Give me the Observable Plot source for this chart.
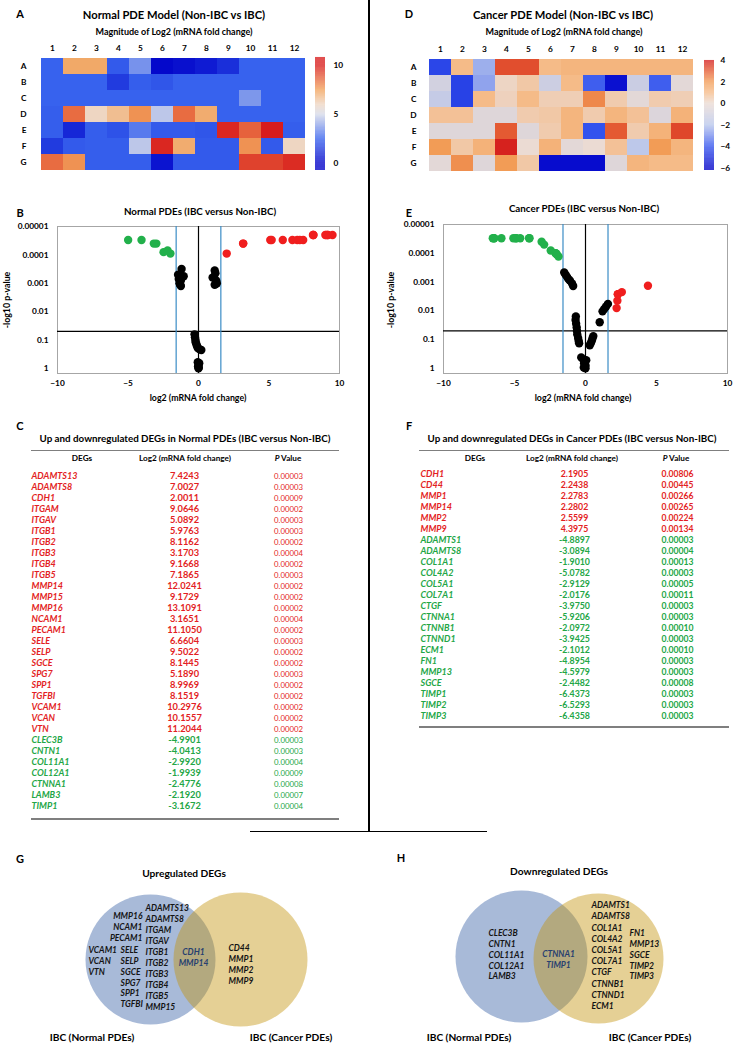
<!DOCTYPE html>
<html><head><meta charset="utf-8">
<script src="https://cdn.jsdelivr.net/npm/d3@7"></script>
<script src="https://cdn.jsdelivr.net/npm/@observablehq/plot@0.6"></script>
<style>
body{margin:0;background:#fff;}
#page{position:relative;width:733px;height:1044px;overflow:hidden;font-family:Lato,"Open Sans",sans-serif;background:#fff;}
.abs{position:absolute;white-space:nowrap;line-height:1;}
</style></head><body><div id="page"></div>
<script>
// ---------------- DATA ----------------
const heatCols = ["1","2","3","4","5","6","7","8","9","10","11","12"];
const heatRows = ["A","B","C","D","E","F","G"];
const normalHeat = [
  [2.5, 7.3, 7.3, 2.3, 3.5, 0.2, 0.4, 0.7, 1.2, 2.5, 2.5, 2.5],
  [2.5, 2.5, 2.5, 1.5, 2.4, 2.2, 2.5, 2.5, 2.5, 2.5, 2.5, 2.5],
  [2.5, 2.5, 2.5, 2.5, 2.5, 2.5, 2.5, 2.5, 2.5, 3.6, 2.5, 2.5],
  [2.4, 8.5, 6.0, 6.7, 7.8, 4.6, 8.5, 7.2, 2.5, 2.5, 2.5, 2.5],
  [2.4, 1.0, 2.4, 2.1, 3.0, 2.3, 2.3, 2.2, 9.8, 8.7, 10.3, 2.4],
  [1.5, 2.3, 2.4, 2.4, 4.6, 9.8, 7.2, 2.3, 2.3, 7.8, 2.3, 6.0],
  [8.5, 7.8, 2.4, 2.4, 2.4, 0.5, 2.3, 2.3, 2.3, 9.3, 9.3, 9.7]
];
const cancerHeat = [
  [-4.3, 1.0, -2.4, 3.2, 3.2, 1.0, 1.2, 1.2, 1.2, 1.2, 1.2, 1.2],
  [-1.0, -4.4, -2.6, 0.2, 0.6, -1.2, 1.0, -3.8, -5.6, -1.3, -3.8, -0.3],
  [-1.5, -4.4, 1.0, 0.3, 1.0, 0.4, 0.4, 2.3, 0.5, -0.3, 0.5, 0.4],
  [0.8, 0.8, -0.5, -0.5, 0.5, 0.6, 1.2, 0.5, 1.2, 0.8, -0.6, 1.3],
  [-0.5, -0.5, -0.5, 3.0, -0.5, 0.5, 1.2, -4.0, 3.0, 0.5, 1.3, 3.3],
  [2.0, 0.6, 1.3, 3.9, 0.0, 1.3, -0.3, 0.0, 0.8, -1.8, 2.0, 1.2],
  [-0.3, 2.2, -0.5, 2.0, 0.6, -5.7, -5.7, -5.7, -0.5, 1.2, 1.0, 1.0]
];
const normalBarTicks = [0, 5, 10];
const cancerBarTicks = [-6, -4, -2, 0, 2, 4];

// Table C (normal PDEs)
const normalUpGenes = ["ADAMTS13","ADAMTS8","CDH1","ITGAM","ITGAV","ITGB1","ITGB2","ITGB3","ITGB4","ITGB5","MMP14","MMP15","MMP16","NCAM1","PECAM1","SELE","SELP","SGCE","SPG7","SPP1","TGFBI","VCAM1","VCAN","VTN"];
const normalUpLog2 = [7.4243,7.0027,2.0011,9.0646,5.0892,5.9763,8.1162,3.1703,9.1668,7.1865,12.0241,9.1729,13.1091,3.1651,11.1050,6.6604,9.5022,8.1445,5.1890,8.9969,8.1519,10.2976,10.1557,11.2044];
const normalUpP = [0.00003,0.00003,0.00009,0.00002,0.00003,0.00003,0.00002,0.00004,0.00002,0.00003,0.00002,0.00002,0.00002,0.00004,0.00002,0.00003,0.00002,0.00002,0.00003,0.00002,0.00002,0.00002,0.00002,0.00002];
const normalDownGenes = ["CLEC3B","CNTN1","COL11A1","COL12A1","CTNNA1","LAMB3","TIMP1"];
const normalDownLog2 = [-4.9901,-4.0413,-2.9920,-1.9939,-2.4776,-2.1920,-3.1672];
const normalDownP = [0.00003,0.00003,0.00004,0.00009,0.00008,0.00007,0.00004];

// Table F (cancer PDEs)
const cancerUpGenes = ["CDH1","CD44","MMP1","MMP14","MMP2","MMP9"];
const cancerUpLog2 = [2.1905,2.2438,2.2783,2.2802,2.5599,4.3975];
const cancerUpP = [0.00806,0.00445,0.00266,0.00265,0.00224,0.00134];
const cancerDownGenes = ["ADAMTS1","ADAMTS8","COL1A1","COL4A2","COL5A1","COL7A1","CTGF","CTNNA1","CTNNB1","CTNND1","ECM1","FN1","MMP13","SGCE","TIMP1","TIMP2","TIMP3"];
const cancerDownLog2 = [-4.8897,-3.0894,-1.9010,-5.0782,-2.9129,-2.0176,-3.9750,-5.9206,-2.0972,-3.9425,-2.1012,-4.8954,-4.5979,-2.4482,-6.4373,-6.5293,-6.4358];
const cancerDownP = [0.00003,0.00004,0.00013,0.00003,0.00005,0.00011,0.00003,0.00003,0.00010,0.00003,0.00010,0.00003,0.00003,0.00008,0.00003,0.00003,0.00003];

// Non-significant genes (log2 FC, -log10 p)
const normalNSLog2 = [-1.2,-1.45,-1.3,-1.05,-1.4,-1.25,-1.35,-1.3,-1.25, 1.15,1.2,1.0,1.25,1.3,1.15,1.25, -0.28,-0.25,-0.22,-0.2,-0.15,-0.1,-0.05,0.05,0.2, -0.05,0.05,0.0,-0.03,0.02,0.0];
const normalNSNegLog10P = [3.5,3.3,3.3,3.25,3.15,3.1,3.0,2.95,2.9, 3.45,3.35,3.2,3.1,3.0,2.95,2.98, 1.2,1.1,1.0,0.92,0.85,0.78,0.72,0.68,0.65, 0.22,0.18,0.12,0.07,0.03,0.0];
const cancerNSLog2 = [-1.5,-1.4,-1.3,-1.2,-1.1,-0.95,-0.87, -0.68,-0.7,-0.66,-0.62,-0.6,-0.58,-0.52,-0.48,-0.45, 0.3,0.38,0.45,0.5,0.55, 1.0, 1.2,1.32,1.45,1.58, -0.3,-0.15,0.05,-0.1,0.0,-0.12,0.0];
const cancerNSNegLog10P = [3.33,3.25,3.18,3.1,3.05,2.95,2.86, 1.8,1.68,1.55,1.42,1.3,1.18,1.05,0.95,0.87, 0.8,0.88,0.97,1.05,1.12, 1.6, 1.98,2.06,2.15,2.24, 0.38,0.3,0.28,0.18,0.1,0.03,0.0];

const pTickLabels = ["1","0.1","0.01","0.001","0.0001","0.00001"];
const xTickValues = [-10,-5,0,5,10];
const pCutoff = 0.05;
const foldCutoff = 1.585;

// Venn diagrams
const vennUpNormalOnly = ["ADAMTS13","ADAMTS8","ITGAM","ITGAV","ITGB1","ITGB2","ITGB3","ITGB4","ITGB5","MMP15","MMP16","NCAM1","PECAM1","SELE","SELP","SGCE","SPG7","SPP1","TGFBI","VCAM1","VCAN","VTN"];
const vennUpShared = ["CDH1","MMP14"];
const vennUpCancerOnly = ["CD44","MMP1","MMP2","MMP9"];
const vennDownNormalOnly = ["CLEC3B","CNTN1","COL11A1","COL12A1","LAMB3"];
const vennDownShared = ["CTNNA1","TIMP1"];
const vennDownCancerOnly = ["ADAMTS1","ADAMTS8","COL1A1","COL4A2","COL5A1","COL7A1","CTGF","CTNNB1","CTNND1","ECM1","FN1","MMP13","SGCE","TIMP2","TIMP3"];
const vennSets = ["IBC (Normal PDEs)","IBC (Cancer PDEs)"];

// ---------------- HELPERS ----------------
const FONT = "Lato, 'Open Sans', sans-serif";
const page = document.getElementById("page");
const RED = "#e31e24", GREEN = "#23a646";
function put(node, left, top) {
  node.style.position = "absolute"; node.style.left = left + "px"; node.style.top = top + "px";
  page.appendChild(node);
}
function txt(html, x, y, o = {}) {
  const d = document.createElement("div");
  d.className = "abs"; d.innerHTML = html;
  d.style.left = x + "px"; d.style.top = y + "px";
  d.style.fontSize = (o.size || 9) + "px";
  d.style.fontWeight = o.weight || "bold";
  d.style.fontStyle = o.style || "normal";
  d.style.color = o.color || "#000";
  const a = o.anchor || "middle";
  const tx = a === "middle" ? "-50%" : a === "end" ? "-100%" : "0";
  d.style.transform = `translate(${tx},-50%)` + (o.rotate ? ` rotate(${o.rotate}deg)` : "");
  page.appendChild(d);
}
function line(x1, y1, x2, y2, color, w) {
  const d = document.createElement("div");
  d.style.position = "absolute"; d.style.background = color;
  if (y1 === y2) { d.style.left = x1 + "px"; d.style.top = (y1 - w / 2) + "px"; d.style.width = (x2 - x1) + "px"; d.style.height = w + "px"; }
  else { d.style.left = (x1 - w / 2) + "px"; d.style.top = y1 + "px"; d.style.width = w + "px"; d.style.height = (y2 - y1) + "px"; }
  page.appendChild(d);
}
const baseStyle = {fontFamily: FONT, fontSize: "8.3px", fontWeight: "bold", background: "transparent", overflow: "visible", color: "#000"};

// ---------------- HEATMAPS ----------------
const normalColor = {type: "linear", domain: [0, 2.5, 5, 6, 7.5, 10], range: ["#0000c8", "#3762ee", "#d6dae8", "#eed6c2", "#f2a25a", "#d81c1c"], clamp: true};
const cancerColor = {type: "linear", domain: [-6, -4, -2, 0, 1, 2, 3, 4], range: ["#0000c8", "#3252ee", "#b8c6ec", "#ebdbd3", "#f5bb88", "#f29c56", "#e45a32", "#d41c1c"], clamp: true};

function heat(values, color, m) {
  const cells = heatRows.flatMap((r, i) => heatCols.map((c, j) => ({row: r, col: c, v: values[i][j]})));
  return Plot.plot({
    width: m.w, height: 180, marginLeft: m.l, marginRight: m.r, marginTop: m.t, marginBottom: 7,
    style: baseStyle,
    x: {domain: heatCols, padding: 0, axis: "top", tickSize: 0, tickPadding: 5, label: null},
    y: {domain: heatRows, padding: 0, tickSize: 0, tickPadding: m.yp, label: null},
    color,
    marks: [Plot.cell(cells, {x: "col", y: "row", fill: "v", inset: 0})]
  });
}
function colorbar(color, lo, hi, ticks, w, h, pad) {
  const step = (hi - lo) / 200;
  const steps = d3.range(200).map(i => lo + i * step);
  return Plot.plot({
    width: w, height: h + 16, marginTop: 8, marginBottom: 8, marginLeft: 0, marginRight: w - 10,
    style: baseStyle,
    x: {domain: [0, 1], axis: null},
    y: {domain: [lo, hi], ticks, tickSize: 0, tickPadding: pad, axis: "right", label: null},
    color,
    marks: [Plot.rect(steps, {x1: 0, x2: 1, y1: d => d, y2: d => d + step * 1.05, fill: d => d + step / 2})]
  });
}
put(heat(normalHeat, normalColor, {w: 366, l: 38, r: 59, t: 55, yp: 12}), 0, 0);
put(heat(cancerHeat, cancerColor, {w: 367, l: 61, r: 39, t: 56, yp: 11}), 366, 0);
put(colorbar(normalColor, -0.71, 10.82, normalBarTicks, 40, 113, 8), 315, 49);
put(colorbar(cancerColor, -6.2, 4.0, cancerBarTicks, 29, 110, 6), 704, 52);

txt("A", 20, 13, {size: 11});
txt("Normal PDE Model (Non-IBC vs IBC)", 174, 15, {size: 11.2});
txt("Magnitude of Log2 (mRNA fold change)", 174, 31, {size: 9});
txt("D", 409, 13, {size: 11});
txt("Cancer PDE Model (Non-IBC vs IBC)", 563, 15, {size: 11.2});
txt("Magnitude of Log2 (mRNA fold change)", 564, 31, {size: 9});

// ---------------- VOLCANOES ----------------
function volcano(up, down, nsX, nsY, m) {
  const toPts = (lg, p) => lg.map((x, i) => ({x, y: -Math.log10(p[i])})).filter(d => Math.abs(d.x) <= 10);
  const ns = nsX.map((x, i) => ({x, y: nsY[i]}));
  return Plot.plot({
    width: m.w, height: 230, marginLeft: m.l, marginRight: m.r, marginTop: m.t, marginBottom: 37,
    style: baseStyle,
    x: {domain: [-10, 10], ticks: xTickValues, tickSize: 0, tickPadding: 7, label: null},
    y: {domain: [-0.18, 5], ticks: [0, 1, 2, 3, 4, 5], tickFormat: d => pTickLabels[d], tickSize: 0, tickPadding: 9, label: null},
    marks: [
      Plot.frame({stroke: "#a6a6a6", strokeWidth: 1}),
      Plot.ruleY([-Math.log10(pCutoff)], {stroke: "#000", strokeWidth: 1.2}),
      Plot.ruleX([0], {stroke: "#000", strokeWidth: 1.2}),
      Plot.ruleX([-foldCutoff, foldCutoff], {stroke: "#3a8cc6", strokeWidth: 1.2}),
      Plot.dot(ns, {x: "x", y: "y", r: 4.2, fill: "#000"}),
      Plot.dot(toPts(down.lg, down.p), {x: "x", y: "y", r: 4.2, fill: "#22b04b"}),
      Plot.dot(toPts(up.lg, up.p), {x: "x", y: "y", r: 4.2, fill: "#f01e1e"})
    ]
  });
}
put(volcano({lg: normalUpLog2, p: normalUpP}, {lg: normalDownLog2, p: normalDownP}, normalNSLog2, normalNSNegLog10P, {w: 366, l: 57, r: 27, t: 46}), 0, 180);
put(volcano({lg: cancerUpLog2, p: cancerUpP}, {lg: cancerDownLog2, p: cancerDownP}, cancerNSLog2, cancerNSNegLog10P, {w: 367, l: 77, r: 6, t: 44}), 366, 180);

txt("B", 20, 212, {size: 11});
txt("Normal PDEs (IBC versus Non-IBC)", 200, 212, {size: 9.8});
txt("log2 (mRNA fold change)", 198, 398, {size: 8.8});
txt("-log10 p-value", 7, 300, {size: 8.8, rotate: -90});
txt("E", 409, 212, {size: 11});
txt("Cancer PDEs (IBC versus Non-IBC)", 584, 209, {size: 9.8});
txt("log2 (mRNA fold change)", 583, 398, {size: 8.8});
txt("-log10 p-value", 391, 300, {size: 8.8, rotate: -90});

// ---------------- TABLES ----------------
function table(upG, upL, upP, dnG, dnL, dnP, m) {
  const rows = [...upG.map((g, i) => ({gene: g, lg: upL[i], p: upP[i], c: RED})),
                ...dnG.map((g, i) => ({gene: g, lg: dnL[i], p: dnP[i], c: GREEN}))];
  const up = rows.filter(r => r.c === RED), dn = rows.filter(r => r.c === GREEN);
  const marks = [];
  for (const [set, col] of [[up, RED], [dn, GREEN]]) {
    marks.push(Plot.text(set, {x: m.gx, y: "gene", text: "gene", textAnchor: "start", fill: col, fontStyle: "italic", fontWeight: "bold", fontSize: 9}));
    marks.push(Plot.text(set, {x: m.vx, y: "gene", text: d => d.lg.toFixed(4), fill: col, fontWeight: "bold", fontSize: m.vs}));
    marks.push(Plot.text(set, {x: m.px, y: "gene", text: d => d.p.toFixed(5), fill: col, fontWeight: m.pw, fontSize: m.ps}));
  }
  return Plot.plot({
    width: m.w, height: m.h, margin: 0, style: baseStyle,
    x: {domain: [0, m.w], range: [0, m.w], axis: null},
    y: {type: "point", domain: rows.map(r => r.gene), range: [m.y0, m.y1], axis: null},
    marks
  });
}
put(table(normalUpGenes, normalUpLog2, normalUpP, normalDownGenes, normalDownLog2, normalDownP,
  {w: 366, h: 430, gx: 31, vx: 184, px: 288, y0: 63.3, y1: 408.5, vs: 9.3, ps: 7.8, pw: "normal"}), 0, 405);
put(table(cancerUpGenes, cancerUpLog2, cancerUpP, cancerDownGenes, cancerDownLog2, cancerDownP,
  {w: 367, h: 330, gx: 54, vx: 208, px: 311, y0: 63.3, y1: 316.7, vs: 8.8, ps: 8.6, pw: "bold"}), 366, 405);

txt("C", 20, 425, {size: 11});
txt("Up and downregulated DEGs in Normal PDEs (IBC versus Non-IBC)", 185, 439, {size: 9.8});
line(31, 450, 339, 450, "#7f7f7f", 1);
txt("DEGs", 82, 458, {size: 8.2});
txt("Log2 (mRNA fold change)", 185, 458, {size: 8.2});
txt("<i>P</i> Value", 288, 458, {size: 8.2});
line(31, 819, 339, 819, "#7f7f7f", 1.3);

txt("F", 409, 425, {size: 11});
txt("Up and downregulated DEGs in Cancer PDEs (IBC versus Non-IBC)", 572, 439, {size: 9.8});
line(419, 450, 729, 450, "#7f7f7f", 1);
txt("DEGs", 475, 458, {size: 8.2});
txt("Log2 (mRNA fold change)", 572, 458, {size: 8.2});
txt("<i>P</i> Value", 676, 458, {size: 8.2});
line(419, 727, 729, 727, "#7f7f7f", 1.3);

// dividers
line(369, 0, 369, 832, "#000", 1.5);
line(250, 831.5, 487, 831.5, "#000", 1.5);

// ---------------- VENNS ----------------
function venn(groups, circles, w) {
  const marks = [
    Plot.dot([vennSets[0]], {x: circles[0].x, y: circles[0].y, r: circles[0].r, fill: "#a8bad8"}),
    Plot.dot([vennSets[1]], {x: circles[1].x, y: circles[1].y, r: circles[1].r, fill: "rgb(194,146,10)", fillOpacity: 0.43})
  ];
  for (const g of groups) {
    marks.push(Plot.text(g.genes, {x: () => g.x, y: (d, i) => g.y + i * g.lh, text: d => d, textAnchor: g.a, fill: g.c || "#141414", fontStyle: "italic", fontWeight: "bold", fontSize: 8.5}));
  }
  return Plot.plot({
    width: w, height: 204, margin: 0, style: baseStyle,
    x: {domain: [0, w], range: [0, w], axis: null},
    y: {domain: [0, 204], range: [0, 204], axis: null},
    marks
  });
}
const T = 840;
put(venn([
  {genes: vennUpNormalOnly.slice(0, 10), x: 145, y: 908 - T, lh: 11, a: "start"},
  {genes: vennUpNormalOnly.slice(10, 13), x: 142, y: 916 - T, lh: 11, a: "end"},
  {genes: vennUpNormalOnly.slice(13, 19), x: 120, y: 950 - T, lh: 10.8, a: "start"},
  {genes: vennUpNormalOnly.slice(19), x: 88, y: 950 - T, lh: 11, a: "start"},
  {genes: vennUpShared, x: 193, y: 952 - T, lh: 11, a: "middle", c: "#27406f"},
  {genes: vennUpCancerOnly, x: 228, y: 948 - T, lh: 10.8, a: "start"}
], [{x: 150, y: 959 - T, r: 65}, {x: 240, y: 959 - T, r: 67}], 366), 0, T);
put(venn([
  {genes: vennDownNormalOnly, x: 488 - 366, y: 933 - T, lh: 10.8, a: "start"},
  {genes: vennDownShared, x: 558 - 366, y: 954 - T, lh: 10.5, a: "middle", c: "#27406f"},
  {genes: vennDownCancerOnly.slice(0, 10), x: 591 - 366, y: 905 - T, lh: 11.2, a: "start"},
  {genes: vennDownCancerOnly.slice(10), x: 629 - 366, y: 933 - T, lh: 10.8, a: "start"}
], [{x: 521 - 366, y: 956 - T, r: 66}, {x: 598 - 366, y: 958 - T, r: 65}], 367), 366, T);

txt("G", 20, 858, {size: 11});
txt("Upregulated DEGs", 184, 873, {size: 10.2});
txt(vennSets[0], 92, 1037, {size: 10.2});
txt(vennSets[1], 291, 1037, {size: 10.2});
txt("H", 401, 857, {size: 11});
txt("Downregulated DEGs", 559, 871, {size: 10.2});
txt(vennSets[0], 469, 1037, {size: 10.2});
txt(vennSets[1], 650, 1037, {size: 10.2});
</script>
</body></html>
